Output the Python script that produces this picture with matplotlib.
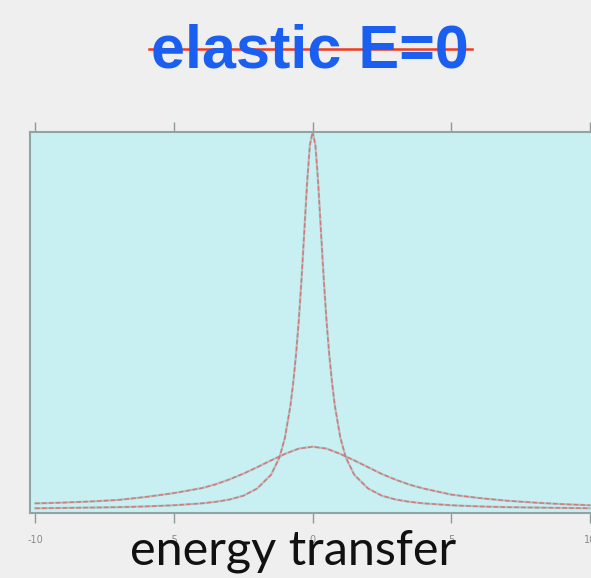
import numpy as np
import matplotlib
matplotlib.use('Agg')
import matplotlib.pyplot as plt

x_narrow = [-10, -9, -8, -7, -6, -5, -4, -3.5, -3, -2.5, -2, -1.5, -1.2, -1.0,
            -0.8, -0.7, -0.6, -0.5, -0.4, -0.3, -0.2, -0.1, 0,
            0.1, 0.2, 0.3, 0.4, 0.5, 0.6, 0.7, 0.8, 1.0, 1.2, 1.5, 2, 2.5,
            3, 3.5, 4, 5, 6, 7, 8, 9, 10]
y_narrow = [0.010, 0.011, 0.012, 0.013, 0.015, 0.018, 0.023, 0.027, 0.033, 0.043,
            0.062, 0.098, 0.143, 0.195, 0.280, 0.340, 0.413, 0.503, 0.613, 0.738,
            0.865, 0.965, 1.000,
            0.965, 0.865, 0.738, 0.613, 0.503, 0.413, 0.340, 0.280, 0.195, 0.143,
            0.098, 0.062, 0.043, 0.033, 0.027, 0.023, 0.018, 0.015, 0.013, 0.012,
            0.011, 0.010]

x_broad = [-10, -9, -8, -7, -6, -5, -4, -3.5, -3, -2.5, -2, -1.5, -1.2, -1, -0.5, 0,
           0.5, 1, 1.2, 1.5, 2, 2.5, 3, 3.5, 4, 5, 6, 7, 8, 9, 10]
y_broad = [0.023, 0.025, 0.028, 0.032, 0.040, 0.050, 0.063, 0.073, 0.086, 0.101,
           0.118, 0.136, 0.146, 0.153, 0.167, 0.172,
           0.167, 0.153, 0.146, 0.136, 0.118, 0.100, 0.085, 0.072, 0.062, 0.046,
           0.037, 0.030, 0.025, 0.021, 0.018]

xticks = [-10, -5, 0, 5, 10]

fig = plt.figure(figsize=(5.91, 5.78), dpi=100)
fig.patch.set_facecolor('#efefef')

ax = fig.add_axes([0.051, 0.112, 0.956, 0.660])
ax.set_facecolor('#c8f0f2')

for xs, ys in ((x_narrow, y_narrow), (x_broad, y_broad)):
    ax.plot(xs, ys, color='#9a9a9a', linewidth=1.6, alpha=0.5)
    ax.plot(xs, ys, color='#e06a6a', linewidth=1.1, linestyle=(0, (3, 1.5)), alpha=0.85)

ax.set_xlim(-10.18, 10.18)
ax.set_ylim(-0.003, 1.0)
ax.set_xticks(xticks)
ax.set_xticklabels([str(t) for t in xticks])
ax.set_yticks([])
ax.tick_params(axis='x', which='both', top=True, bottom=True, direction='out',
               length=7, width=1, color='#8c9a9a', labelsize=7,
               labelcolor='#8a8a8a', pad=9)
for side in ('top', 'bottom', 'left', 'right'):
    ax.spines[side].set_color('#8fa5a5')
    ax.spines[side].set_linewidth(1.5)

fig.text(0.496, 0.0225, 'energy transfer', ha='center', va='baseline',
         fontsize=35, family='Lato', color='#111111')

title_size = 44
title = fig.text(0.525, 0.884, 'elastic E=0', ha='center', va='baseline',
                 fontsize=title_size, fontweight='bold', family='Liberation Sans',
                 color='#1a5ff0')

# red strike-through across the title
fig.canvas.draw()
bb = title.get_window_extent().transformed(fig.transFigure.inverted())
ystrike = 0.884 + 0.30 * title_size * 100 / 72 / (5.78 * 100)
fig.add_artist(plt.Line2D([bb.x0 - 0.004, bb.x1 + 0.004], [ystrike, ystrike],
                          color='#f03a20', linewidth=1.8, transform=fig.transFigure))

fig.savefig('out.png', dpi=100, facecolor=fig.get_facecolor())
